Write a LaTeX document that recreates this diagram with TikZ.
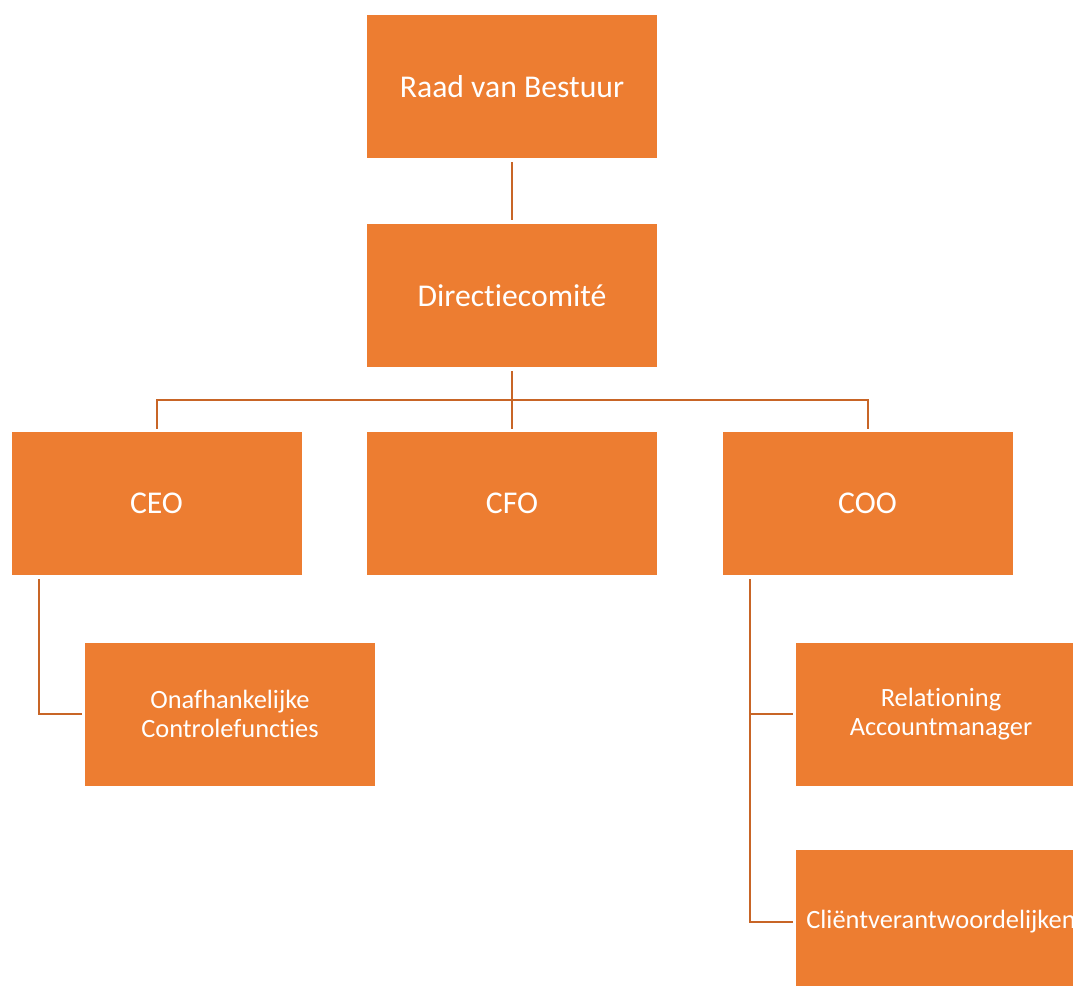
\documentclass[tikz,border=0pt]{standalone}
\usepackage{fontspec}
\setmainfont{Carlito}[Ligatures={NoCommon}]
\definecolor{boxorange}{HTML}{ED7D31}
\definecolor{lineorange}{RGB}{200,101,38}
\begin{document}
\begin{tikzpicture}[x=1pt,y=-1pt,
  orgbox/.style={rectangle, fill=boxorange, draw=none, minimum width=290pt, minimum height=143pt, inner sep=0pt, text=white, align=center},
  bigtext/.style={font=\fontsize{31.7}{38}\selectfont},
  smalltext/.style={font=\fontsize{26.4}{29}\selectfont},
  conn/.style={draw=lineorange, line width=2pt}]
\useasboundingbox (0,0) rectangle (1073,985);
\node[orgbox, bigtext] (raad) at (512,86.5) {Raad van Bestuur};
\node[orgbox, bigtext] (dir) at (512,295.5) {Directiecomité};
\node[orgbox, bigtext] (ceo) at (156.5,503.5) {CEO};
\node[orgbox, bigtext] (cfo) at (512,503.5) {CFO};
\node[orgbox, bigtext] (coo) at (867.5,503.5) {COO};
\node[orgbox, smalltext] (onaf) at (230,714) {Onafhankelijke\\Controlefuncties};
\node[orgbox, smalltext] (rel) at (941,714) {Relationing\\Accountmanager};
\node[orgbox, smalltext] (cli) at (941,921.5) {Cliëntverantwoordelijken};

\draw[conn, shorten <=4pt, shorten >=4pt] (raad.south) -- (dir.north);
\draw[conn, shorten <=4pt, shorten >=3pt] (dir.south) -- ++(0,33) -| (ceo.north);
\draw[conn, shorten <=4pt, shorten >=3pt] (dir.south) -- (cfo.north);
\draw[conn, shorten <=4pt, shorten >=3pt] (dir.south) -- ++(0,33) -| (coo.north);
\draw[conn, shorten >=3pt] ([xshift=28pt,yshift=-4pt]ceo.south west) |- (onaf.west);
\draw[conn, shorten >=3pt] ([xshift=28pt,yshift=-4pt]coo.south west) |- (rel.west);
\draw[conn, shorten >=3pt] ([xshift=28pt,yshift=-4pt]coo.south west) |- (cli.west);
\end{tikzpicture}
\end{document}
